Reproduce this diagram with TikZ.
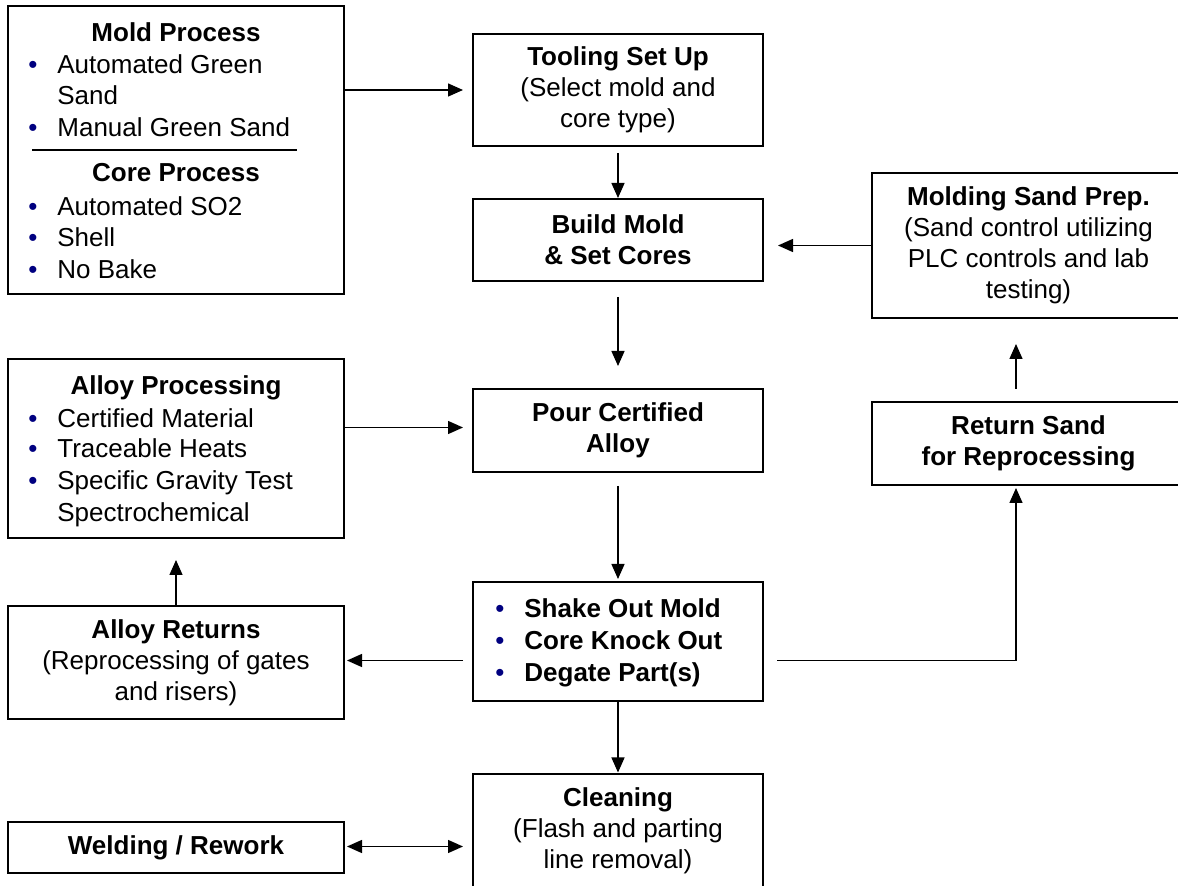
\documentclass[tikz,border=0pt]{standalone}
\usepackage{fontspec}
\setmainfont{Liberation Sans}
\usetikzlibrary{arrows.meta,calc}
\definecolor{navy}{RGB}{0,0,128}
\newcommand\fs{\fontsize{13pt}{15.5pt}\selectfont}
\begin{document}
\begin{tikzpicture}[x=0.5pt,y=-0.5pt,
  box/.style={draw, line width=1pt, inner sep=0pt, align=center, font=\fs},
  arr/.style={line width=0.7pt, -{Triangle[length=7.5pt,width=6.5pt]}},
  darr/.style={line width=0.7pt, {Triangle[length=7.5pt,width=6.5pt]}-{Triangle[length=7.5pt,width=6.5pt]}},
  li/.style={anchor=base west, inner sep=0pt, font=\fs},
  hd/.style={anchor=base, inner sep=0pt, font=\fs\bfseries},
  bul/.style={anchor=base, inner sep=0pt, font=\fs, text=navy}]
\useasboundingbox (0,0) rectangle (1178,886);
\fill[white] (0,0) rectangle (1178,886);

% boxes
\node[box, minimum width=168pt, minimum height=144pt] (mold) at (176,150) {};
\node[box, minimum width=145pt, minimum height=56pt] (tool) at (618,90) {{\bfseries Tooling Set Up}\\(Select mold and\\core type)};
\node[box, minimum width=145pt, minimum height=41pt] (build) at (618,240) {\bfseries Build Mold\\\bfseries \& Set Cores};
\node[box, minimum width=156.5pt, minimum height=72.5pt] (sandprep) at (1028.5,245.5) {{\bfseries Molding Sand Prep.}\\(Sand control utilizing\\PLC controls and lab\\testing)};
\node[box, minimum width=168pt, minimum height=89.5pt] (alloyp) at (176,448.5) {};
\node[box, minimum width=145pt, minimum height=41.5pt] (pour) at (618,430.5) {\bfseries Pour Certified\\\bfseries Alloy};
\node[box, minimum width=156.5pt, minimum height=41.5pt] (retsand) at (1028.5,443.5) {\bfseries Return Sand\\\bfseries for Reprocessing};
\node[box, minimum width=168pt, minimum height=56.5pt] (returns) at (176,662.5) {{\bfseries Alloy Returns}\\(Reprocessing of gates\\and risers)};
\node[box, minimum width=145pt, minimum height=59.5pt] (shake) at (618,641.5) {};
\node[box, minimum width=168pt, minimum height=25.5pt] (weld) at (176,847.5) {\bfseries Welding / Rework};
\node[box, minimum width=145pt, minimum height=56.5pt] (clean) at (618,831) {{\bfseries Cleaning}\\(Flash and parting\\line removal)};

% mold process content
\node[hd] (mh1) at (176,42) {Mold Process};
\node[bul] (mb1) at (33,74) {•};
\node[li] (mi1) at (57,74) {Automated Green};
\node[li] (mi1b) at (57,105) {Sand};
\node[bul] (mb2) at (33,137) {•};
\node[li] (mi2) at (57,137) {Manual Green Sand};
\draw[line width=0.75pt] (32,150) -- (297,150);
\node[hd] (mh2) at (176,182) {Core Process};
\node[bul] (mb3) at (33,216) {•};
\node[li] (mi3) at (57,216) {Automated SO2};
\node[bul] (mb4) at (33,247) {•};
\node[li] (mi4) at (57,247) {Shell};
\node[bul] (mb5) at (33,279) {•};
\node[li] (mi5) at (57,279) {No Bake};

% alloy processing content
\node[hd] (ah1) at (176,395) {Alloy Processing};
\node[bul] (ab1) at (33,428) {•};
\node[li] (ai1) at (57,428) {Certified Material};
\node[bul] (ab2) at (33,458) {•};
\node[li] (ai2) at (57,458) {Traceable Heats};
\node[bul] (ab3) at (33,490) {•};
\node[li] (ai3) at (57,490) {Specific Gravity Test};
\node[li] (ai4) at (57,522) {Spectrochemical};

% shake out content
\node[bul] (sb1) at (500,618) {•};
\node[li, font=\fs\bfseries] (si1) at (524,618) {Shake Out Mold};
\node[bul] (sb2) at (500,650) {•};
\node[li, font=\fs\bfseries] (si2) at (524,650) {Core Knock Out};
\node[bul] (sb3) at (500,682) {•};
\node[li, font=\fs\bfseries] (si3) at (524,682) {Degate Part(s)};

\coordinate (rx) at (1016,0);

% connectors
\draw[arr] (mold.east |- tool.west) -- ($(tool.west)+(-9,0)$);
\draw[arr] ($(tool.south)+(0,6)$) -- (build.north);
\draw[arr] (sandprep.west) -- ($(build.east |- sandprep.west)+(14,0)$);
\draw[arr] ($(build.south)+(0,15)$) -- ($(pour.north)+(0,-22)$);
\draw[arr] ($(alloyp.east |- pour.west)+(0,-3)$) -- ($(pour.west)+(-9,-3)$);
\draw[arr] ($(pour.south)+(0,13)$) -- ($(shake.north)+(0,-2)$);
\draw[arr] ($(shake.west |- returns.east)+(-9,-2)$) -- ($(returns.east)+(2,-2)$);
\draw[arr] ($(shake.east |- returns.east)+(13,-2)$) -| ($(retsand.south -| rx)+(0,2)$);
\draw[arr] (returns.north) -- ($(alloyp.south)+(0,21)$);
\draw[arr] ($(retsand.north -| rx)+(0,-12)$) -- ($(sandprep.south -| rx)+(0,25)$);
\draw[darr] ($(weld.east)+(2,-1)$) -- ($(clean.west |- weld.east)+(-9,-1)$);
\draw[arr] (shake.south) -- ($(clean.north)+(0,-1)$);
\end{tikzpicture}
\end{document}
